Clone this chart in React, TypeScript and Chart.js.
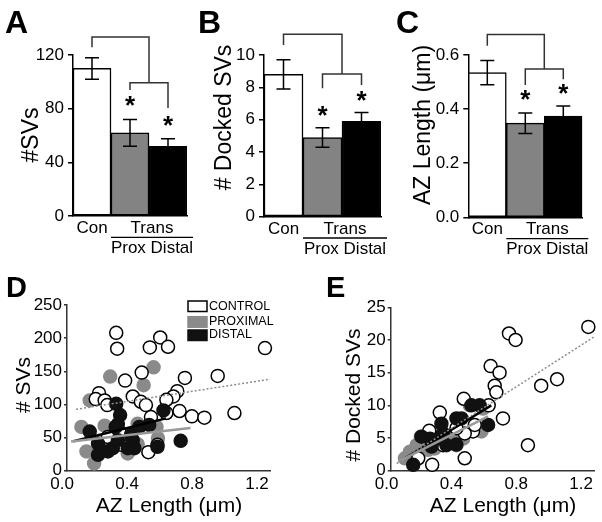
import React, { useEffect, useRef } from 'react';
import { Chart, registerables } from 'chart.js';

Chart.register(...registerables);

const FONT = '"Liberation Sans", Arial, Helvetica, sans-serif';
Chart.defaults.font.family = FONT;

// ---------- bar panels (A, B, C) ----------
const barCategories = ['Con', 'Prox', 'Distal'];
const groupLabel = 'Trans';
const barColors = ['#ffffff', '#838383', '#000000'];

const svsMean = [110, 62, 52];
const svsErr = [8, 10, 5.5];
const svsTicks = [0, 40, 80, 120];
// bracket levels: [top, con leg end, trans level, prox leg end, distal leg end]
const svsBracket = [133.5, 125.7, 99.3, 94, 80.5];
const svsStars = [86.5, 71.5];

const dockedMean = [8.8, 4.9, 5.9];
const dockedErr = [0.9, 0.6, 0.55];
const dockedTicks = [0, 2, 4, 6, 8, 10];
const dockedBracket = [11.28, 10.62, 8.82, 7.94, 8.15];
const dockedStars = [6.6, 7.5];

const azMean = [0.535, 0.348, 0.374];
const azErr = [0.045, 0.038, 0.037];
const azTicks = [0, 0.2, 0.4, 0.6];
const azBracket = [0.676, 0.634, 0.548, 0.489, 0.51];
const azStars = [0.455, 0.477];

// ---------- scatter panels (D, E) ----------
const azLengthTicks = [0, 0.4, 0.8, 1.2];
const svsScatterTicks = [0, 50, 100, 150, 200, 250];
const dockedScatterTicks = [0, 5, 10, 15, 20, 25];
const legendLabels = ['CONTROL', 'PROXIMAL', 'DISTAL'];

const svsControl: number[][] = [
  [0.333, 208], [0.339, 184], [0.604, 201], [0.54, 186], [0.652, 187], [1.249, 185],
  [0.49, 148], [0.388, 136], [0.756, 140], [0.958, 143], [0.227, 117], [0.207, 108],
  [0.262, 106], [0.278, 99], [0.435, 112], [0.485, 104], [0.516, 99], [0.709, 120],
  [0.685, 112], [0.642, 107], [0.642, 87], [0.547, 81], [0.723, 90], [0.799, 82],
  [0.876, 80], [1.061, 87], [0.531, 28], [0.333, 66], [0.363, 39], [0.282, 51],
  [0.353, 59], [0.587, 39],
];
const svsProximal: number[][] = [
  [0.296, 142], [0.563, 156], [0.502, 129], [0.17, 106], [0.119, 66], [0.262, 68],
  [0.15, 29], [0.197, 11], [0.404, 26], [0.465, 40], [0.465, 71], [0.581, 66],
  [0.59, 49], [0.292, 39],
];
const svsDistal: number[][] = [
  [0.333, 101], [0.357, 84], [0.343, 70], [0.33, 66], [0.17, 59], [0.221, 41],
  [0.221, 24], [0.282, 29], [0.312, 34], [0.343, 46], [0.424, 54], [0.435, 46],
  [0.445, 34], [0.475, 66], [0.536, 69], [0.624, 91], [0.587, 36], [0.73, 45],
  [0.404, 34],
];
const svsControlFit: number[][] = [[0.086, 92.6], [1.28, 138]];
const svsProximalFit: number[][] = [[0.055, 44], [0.79, 64.5]];
const svsDistalFit: number[][] = [[0.07, 44.5], [0.64, 79]];

const dockedControl: number[][] = [
  [1.245, 22], [0.755, 21], [0.796, 20], [0.642, 16], [0.697, 15], [0.667, 13],
  [0.677, 12], [1.052, 14], [0.954, 13], [0.872, 3.9], [0.718, 8], [0.63, 10],
  [0.476, 11], [0.328, 8.9], [0.482, 1.9], [0.281, 0.9], [0.349, 3.9], [0.533, 6],
  [0.263, 6.1], [0.544, 7], [0.195, 1.9], [0.482, 5.7], [0.431, 6.5],
];
const dockedProximal: number[][] = [
  [0.113, 1.9], [0.185, 3.9], [0.256, 3.2], [0.297, 3.4], [0.41, 5.2], [0.472, 4.9],
  [0.554, 6.2], [0.585, 6], [0.513, 10], [0.595, 9.5], [0.211, 5.2], [0.144, 2.9],
  [0.431, 3.9], [0.35, 4.5], [0.28, 5.5],
];
const dockedDistal: number[][] = [
  [0.164, 0.9], [0.215, 5.2], [0.267, 4.9], [0.297, 4.7], [0.338, 7.2], [0.349, 5.7],
  [0.431, 8], [0.462, 8], [0.369, 3.9], [0.523, 10], [0.574, 10], [0.626, 7],
  [0.277, 3.7], [0.43, 4],
];
const dockedControlFit: number[][] = [[0.062, 1.1], [1.282, 20.5]];
const dockedProximalFit: number[][] = [[0.072, 1.4], [0.626, 8.3]];
const dockedDistalFit: number[][] = [[0.113, 1.9], [0.646, 10]];

// ---------- layout ----------
const TOP_H = 262;
const BOT_H = 260;

function vText(ctx: CanvasRenderingContext2D, text: string, x: number, y: number, font: string) {
  ctx.save();
  ctx.translate(x, y);
  ctx.rotate(-Math.PI / 2);
  ctx.font = font;
  ctx.textAlign = 'center';
  ctx.textBaseline = 'middle';
  ctx.fillStyle = '#000';
  ctx.fillText(text, 0, 0);
  ctx.restore();
}

type BarPanel = {
  left: number; width: number;
  area: { left: number; right: number; top: number; bottom: number };
  values: number[]; errors: number[]; ticks: number[]; decimals: number;
  bracket: number[]; stars: number[];
  letter: string; letterX: number; yTitle: string; titleX: number; titleY: number;
};

const barPanels: BarPanel[] = [
  {
    left: 0, width: 197, area: { left: 73, right: 187, top: 55, bottom: 216 },
    values: svsMean, errors: svsErr, ticks: svsTicks, decimals: 0,
    bracket: svsBracket, stars: svsStars,
    letter: 'A', letterX: 5, yTitle: '#SVs', titleX: 32, titleY: 135,
  },
  {
    left: 197, width: 197, area: { left: 67, right: 184, top: 55, bottom: 216.7 },
    values: dockedMean, errors: dockedErr, ticks: dockedTicks, decimals: 0,
    bracket: dockedBracket, stars: dockedStars,
    letter: 'B', letterX: 1, yTitle: '# Docked SVs', titleX: 28, titleY: 117.5,
  },
  {
    left: 394, width: 208, area: { left: 74.3, right: 188.3, top: 55, bottom: 217.3 },
    values: azMean, errors: azErr, ticks: azTicks, decimals: 1,
    bracket: azBracket, stars: azStars,
    letter: 'C', letterX: 2, yTitle: 'AZ Length (\u03bcm)', titleX: 30, titleY: 125,
  },
];

function drawStar(ctx: CanvasRenderingContext2D, x: number, y: number) {
  ctx.save();
  ctx.font = `bold 26px ${FONT}`;
  ctx.textAlign = 'center';
  ctx.textBaseline = 'alphabetic';
  ctx.fillStyle = '#000';
  ctx.fillText('*', x, y + 14);
  ctx.restore();
}

function makeBar(canvas: HTMLCanvasElement, p: BarPanel) {
  const annot = {
    id: 'barAnnot',
    afterDraw(chart: any) {
      const ctx: CanvasRenderingContext2D = chart.ctx;
      const y = chart.scales.y;
      const x = chart.scales.x;
      const meta = chart.getDatasetMeta(0);
      const cx = meta.data.map((b: any) => b.x);
      const bw = meta.data[1].width;
      ctx.save();
      // error bars
      ctx.strokeStyle = '#000';
      ctx.lineWidth = 1.5;
      p.values.forEach((v, i) => {
        const t = y.getPixelForValue(v + p.errors[i]);
        const b = y.getPixelForValue(v - p.errors[i]);
        ctx.beginPath();
        ctx.moveTo(cx[i], t); ctx.lineTo(cx[i], b);
        ctx.moveTo(cx[i] - 7, t); ctx.lineTo(cx[i] + 7, t);
        ctx.moveTo(cx[i] - 7, b); ctx.lineTo(cx[i] + 7, b);
        ctx.stroke();
      });
      // brackets
      const [top, conEnd, trans, proxEnd, distEnd] = p.bracket.map((v) => y.getPixelForValue(v));
      const midX = (x.getPixelForValue(1) + x.getPixelForValue(2)) / 2;
      ctx.strokeStyle = '#333';
      ctx.lineWidth = 1.5;
      ctx.beginPath();
      ctx.moveTo(cx[0], conEnd); ctx.lineTo(cx[0], top); ctx.lineTo(midX, top); ctx.lineTo(midX, trans);
      ctx.moveTo(cx[1], proxEnd); ctx.lineTo(cx[1], trans); ctx.lineTo(cx[2], trans); ctx.lineTo(cx[2], distEnd);
      ctx.stroke();
      drawStar(ctx, cx[1], y.getPixelForValue(p.stars[0]));
      drawStar(ctx, cx[2], y.getPixelForValue(p.stars[1]));
      // category labels
      const bottom = chart.chartArea.bottom;
      ctx.fillStyle = '#000';
      ctx.font = `17px ${FONT}`;
      ctx.textAlign = 'center';
      ctx.textBaseline = 'alphabetic';
      ctx.fillText(barCategories[0], cx[0], bottom + 17);
      const lineL = cx[1] - bw / 2;
      const lineR = cx[2] + bw / 2 + 6;
      const lineMid = (lineL + lineR) / 2;
      ctx.fillText(groupLabel, lineMid, bottom + 17);
      ctx.strokeStyle = '#000';
      ctx.lineWidth = 1.3;
      ctx.beginPath();
      ctx.moveTo(lineL, bottom + 21.3); ctx.lineTo(lineR, bottom + 21.3);
      ctx.stroke();
      ctx.fillText(`${barCategories[1]} ${barCategories[2]}`, lineMid, bottom + 37);
      // panel letter & y title
      ctx.font = `bold 32px ${FONT}`;
      ctx.textAlign = 'left';
      ctx.fillText(p.letter, p.letterX, 33);
      ctx.restore();
      vText(ctx, p.yTitle, p.titleX, p.titleY, `23px ${FONT}`);
    },
  };
  return new Chart(canvas, {
    type: 'bar',
    data: {
      labels: barCategories,
      datasets: [{
        data: p.values,
        backgroundColor: barColors,
        borderColor: '#000',
        borderWidth: 1.5,
        borderSkipped: false,
        barPercentage: 1,
        categoryPercentage: 1,
      }],
    },
    options: {
      animation: false,
      responsive: false,
      maintainAspectRatio: false,
      layout: { padding: { top: p.area.top, right: p.width - p.area.right, left: 0, bottom: 0 } },
      plugins: { legend: { display: false }, tooltip: { enabled: false } },
      scales: {
        x: {
          grid: { display: false, drawTicks: false },
          ticks: { display: false },
          border: { display: true, color: '#000', width: 1.5 },
          afterFit: (s: any) => { s.height = TOP_H - p.area.bottom; },
        },
        y: {
          min: 0,
          max: p.ticks[p.ticks.length - 1],
          grid: { display: true, drawOnChartArea: false, tickLength: 5, color: '#000', lineWidth: 1.5 },
          border: { display: true, color: '#000', width: 1.5 },
          ticks: {
            color: '#000',
            padding: 4,
            font: { family: FONT, size: 17 },
            callback: (v: any) => Number(v).toFixed(p.decimals),
          },
          afterBuildTicks: (s: any) => { s.ticks = p.ticks.map((v) => ({ value: v })); },
          afterFit: (s: any) => { s.width = p.area.left; },
        },
      },
    } as any,
    plugins: [annot],
  });
}

type ScatterPanel = {
  left: number; width: number;
  area: { left: number; right: number; top: number; bottom: number };
  xMin: number; xMax: number; yTicks: number[];
  control: number[][]; proximal: number[][]; distal: number[][];
  controlFit: number[][]; proximalFit: number[][]; distalFit: number[][];
  letter: string; letterX: number; yTitle: string; titleX: number; titleY: number;
  xTitleX: number; legend: boolean;
};

const scatterPanels: ScatterPanel[] = [
  {
    left: 0, width: 300, area: { left: 67, right: 270, top: 43, bottom: 208.7 },
    xMin: 0.03, xMax: 1.28, yTicks: svsScatterTicks,
    control: svsControl, proximal: svsProximal, distal: svsDistal,
    controlFit: svsControlFit, proximalFit: svsProximalFit, distalFit: svsDistalFit,
    letter: 'D', letterX: 6, yTitle: '# SVs', titleX: 24, titleY: 123, xTitleX: 169, legend: true,
  },
  {
    left: 300, width: 302, area: { left: 90.7, right: 295, top: 45.3, bottom: 208.7 },
    xMin: 0.025, xMax: 1.28, yTicks: dockedScatterTicks,
    control: dockedControl, proximal: dockedProximal, distal: dockedDistal,
    controlFit: dockedControlFit, proximalFit: dockedProximalFit, distalFit: dockedDistalFit,
    letter: 'E', letterX: 26, yTitle: '# Docked SVs', titleX: 54, titleY: 133, xTitleX: 203, legend: false,
  },
];

const GRAY = '#8a8a8a';
const DARK = '#111111';

function makeScatter(canvas: HTMLCanvasElement, p: ScatterPanel) {
  const pts = (arr: number[][]) => arr.map(([x, y]) => ({ x, y }));
  const dots = (arr: number[][], fill: string, stroke: string, order: number) => ({
    data: pts(arr),
    pointRadius: 6.5,
    pointBackgroundColor: fill,
    pointBorderColor: stroke,
    pointBorderWidth: 1.5,
    showLine: false,
    order,
    clip: false,
  });
  const line = (arr: number[][], color: string, width: number, dash: number[], order: number) => ({
    data: pts(arr),
    pointRadius: 0,
    borderColor: color,
    borderWidth: width,
    borderDash: dash,
    showLine: true,
    fill: false,
    order,
    clip: false,
  });
  const annot = {
    id: 'scatterAnnot',
    afterDraw(chart: any) {
      const ctx: CanvasRenderingContext2D = chart.ctx;
      ctx.save();
      ctx.fillStyle = '#000';
      ctx.font = `bold 29px ${FONT}`;
      ctx.textAlign = 'left';
      ctx.textBaseline = 'alphabetic';
      ctx.fillText(p.letter, p.letterX, 35);
      ctx.font = `21px ${FONT}`;
      ctx.textAlign = 'center';
      ctx.fillText('AZ Length (\u03bcm)', p.xTitleX, 250);
      if (p.legend) {
        const fills = ['#ffffff', GRAY, DARK];
        const strokes = ['#000', GRAY, DARK];
        const boxTops = [39, 54.7, 68];
        const centers = [44.5, 59.5, 73];
        legendLabels.forEach((lab, i) => {
          ctx.fillStyle = fills[i];
          ctx.fillRect(188, boxTops[i], 19, 10.5);
          ctx.strokeStyle = strokes[i];
          ctx.lineWidth = 1.5;
          ctx.strokeRect(188, boxTops[i], 19, 10.5);
          ctx.fillStyle = '#000';
          ctx.font = `12.5px ${FONT}`;
          ctx.textAlign = 'left';
          ctx.textBaseline = 'middle';
          ctx.fillText(lab, 209, centers[i]);
        });
      }
      ctx.restore();
      vText(ctx, p.yTitle, p.titleX, p.titleY, `21px ${FONT}`);
    },
  };
  return new Chart(canvas, {
    type: 'scatter',
    data: {
      datasets: [
        line(p.controlFit, '#8c8c8c', 1.5, [2, 2], 0),
        line(p.proximalFit, '#999999', 2.5, [], 0),
        line(p.distalFit, '#000000', 2.5, [], 0),
        dots(p.distal, DARK, DARK, 1),
        dots(p.control, '#ffffff', '#000000', 2),
        dots(p.proximal, GRAY, GRAY, 3),
      ],
    },
    options: {
      animation: false,
      responsive: false,
      maintainAspectRatio: false,
      layout: { padding: { top: p.area.top, right: p.width - p.area.right, left: 0, bottom: 0 } },
      plugins: { legend: { display: false }, tooltip: { enabled: false } },
      scales: {
        x: {
          type: 'linear',
          min: p.xMin,
          max: p.xMax,
          grid: { display: false, drawTicks: false, tickLength: 0 },
          border: { display: true, color: '#333', width: 1.5 },
          ticks: {
            color: '#000',
            padding: 3,
            maxRotation: 0,
            autoSkip: false,
            font: { family: FONT, size: 17 },
            callback: (v: any) => Number(v).toFixed(1),
          },
          afterBuildTicks: (s: any) => { s.ticks = azLengthTicks.map((v) => ({ value: v })); },
          afterFit: (s: any) => { s.height = BOT_H - p.area.bottom; },
        },
        y: {
          min: 0,
          max: p.yTicks[p.yTicks.length - 1],
          grid: { display: true, drawOnChartArea: false, tickLength: 3, color: '#333', lineWidth: 1.5 },
          border: { display: true, color: '#333', width: 1.5 },
          ticks: {
            color: '#000',
            padding: 2,
            font: { family: FONT, size: 17 },
            callback: (v: any) => String(v),
          },
          afterBuildTicks: (s: any) => { s.ticks = p.yTicks.map((v) => ({ value: v })); },
          afterFit: (s: any) => { s.width = p.area.left; },
        },
      },
    } as any,
    plugins: [annot],
  });
}

export default function App() {
  const barRefs = [useRef<HTMLCanvasElement>(null), useRef<HTMLCanvasElement>(null), useRef<HTMLCanvasElement>(null)];
  const scRefs = [useRef<HTMLCanvasElement>(null), useRef<HTMLCanvasElement>(null)];

  useEffect(() => {
    const charts: Chart[] = [];
    barPanels.forEach((p, i) => {
      if (barRefs[i].current) charts.push(makeBar(barRefs[i].current!, p));
    });
    scatterPanels.forEach((p, i) => {
      if (scRefs[i].current) charts.push(makeScatter(scRefs[i].current!, p));
    });
    return () => charts.forEach((c) => c.destroy());
  }, []);

  return (
    <div style={{ position: 'absolute', left: 0, top: 0, width: 602, height: 522, background: '#fff', overflow: 'hidden' }}>
      {barPanels.map((p, i) => (
        <canvas
          key={'b' + i}
          ref={barRefs[i]}
          width={p.width}
          height={TOP_H}
          style={{ position: 'absolute', left: p.left, top: 0, width: p.width, height: TOP_H, display: 'block' }}
        />
      ))}
      {scatterPanels.map((p, i) => (
        <canvas
          key={'s' + i}
          ref={scRefs[i]}
          width={p.width}
          height={BOT_H}
          style={{ position: 'absolute', left: p.left, top: TOP_H, width: p.width, height: BOT_H, display: 'block' }}
        />
      ))}
    </div>
  );
}
